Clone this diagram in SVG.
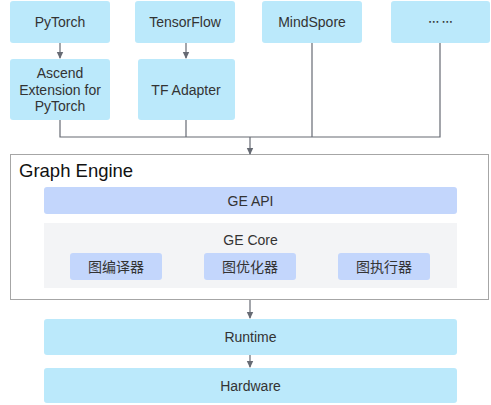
<svg xmlns="http://www.w3.org/2000/svg" width="491" height="405" viewBox="0 0 491 405">
<defs>
<style>
.b{fill:#bbe9fb;}
.api{fill:#c3d6fc;}
.t{font-family:"Liberation Sans",Arial,sans-serif;font-size:14px;fill:#333;text-anchor:middle;}
.c{font-family:"Liberation Sans","Noto Sans CJK SC",sans-serif;font-size:14px;fill:#333;text-anchor:middle;}
.ln{stroke:#666a73;stroke-width:1.2;fill:none;}
</style>
<marker id="ah" markerWidth="8" markerHeight="8" refX="6" refY="4" orient="auto" markerUnits="userSpaceOnUse">
<path d="M0,0.8 L7,4 L0,7.2 Z" fill="#666a73"/>
</marker>
</defs>
<rect width="491" height="405" fill="#fff"/>
<g id="pytorch"><rect class="b" x="10" y="1" width="100" height="42" rx="3"/><text class="t" x="60" y="27">PyTorch</text></g>
<g id="tensorflow"><rect class="b" x="135" y="1" width="100" height="42" rx="3"/><text class="t" x="185" y="27">TensorFlow</text></g>
<g id="mindspore"><rect class="b" x="262" y="1" width="100" height="42" rx="3"/><text class="t" x="312" y="27">MindSpore</text></g>
<g id="more"><rect class="b" x="391" y="1" width="99" height="42" rx="3"/><text x="440.5" y="26" style="font-family:'Noto Sans CJK SC',sans-serif;font-size:11px;fill:#333;text-anchor:middle;font-weight:bold">… …</text></g>
<g id="ascend"><rect class="b" x="10" y="59" width="100" height="61" rx="3"/><text class="t" x="60" y="78">Ascend</text><text class="t" x="60" y="94.5">Extension for</text><text class="t" x="60" y="111">PyTorch</text></g>
<g id="tfadapter"><rect class="b" x="138" y="59" width="97" height="61" rx="3"/><text class="t" x="186" y="94.5">TF Adapter</text></g>
<g id="graphengine"><rect x="10.5" y="154.5" width="478" height="145" fill="#fff" stroke="#a6a6a6" stroke-width="1"/><text x="19" y="176.5" font-family="Liberation Sans,Arial,sans-serif" font-size="18.5" fill="#111">Graph Engine</text></g>
<g id="geapi"><rect class="api" x="44" y="187" width="413" height="27" rx="3"/><text class="t" x="250.5" y="205.5">GE API</text></g>
<g id="gecore"><rect x="44" y="223" width="413" height="65" fill="#f3f4f6"/><text class="t" x="250.5" y="244.5">GE Core</text></g>
<g id="compiler"><rect class="api" x="70" y="253" width="92" height="27" rx="3"/><text class="c" x="116" y="271.5">图编译器</text></g>
<g id="optimizer"><rect class="api" x="204" y="253" width="92" height="27" rx="3"/><text class="c" x="250" y="271.5">图优化器</text></g>
<g id="executor"><rect class="api" x="338" y="253" width="92" height="27" rx="3"/><text class="c" x="384" y="271.5">图执行器</text></g>
<g id="runtime"><rect class="b" x="44" y="319" width="413" height="36" rx="3"/><text class="t" x="250.5" y="342">Runtime</text></g>
<g id="hardware"><rect class="b" x="44" y="368" width="413" height="35" rx="3"/><text class="t" x="250.5" y="390.5">Hardware</text></g>
<g id="connectors">
<line class="ln" x1="60" y1="43" x2="60" y2="58" marker-end="url(#ah)"/>
<line class="ln" x1="186" y1="43" x2="186" y2="58" marker-end="url(#ah)"/>
<polyline class="ln" points="60,120 60,137 440,137 440,43"/>
<line class="ln" x1="186" y1="120" x2="186" y2="137"/>
<line class="ln" x1="312" y1="43" x2="312" y2="137"/>
<line class="ln" x1="250" y1="137" x2="250" y2="154" marker-end="url(#ah)"/>
<line class="ln" x1="250" y1="300" x2="250" y2="318" marker-end="url(#ah)"/>
<line class="ln" x1="250" y1="355" x2="250" y2="367" marker-end="url(#ah)"/>
</g>
</svg>
